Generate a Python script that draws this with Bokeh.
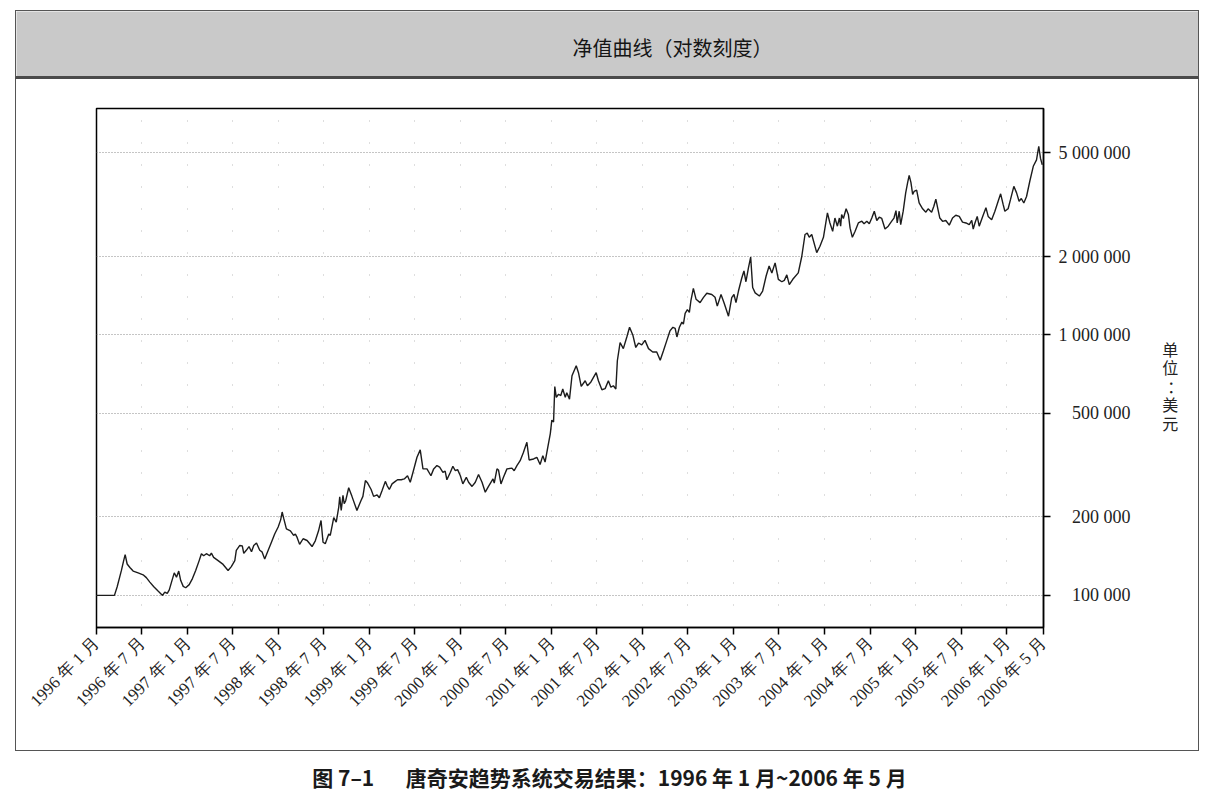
import numpy as np
import pandas as pd
from bokeh.plotting import figure
from bokeh.layouts import column, row
from bokeh.models import FixedTicker, Label, Range1d
from bokeh.embed import file_html
from bokeh.resources import INLINE

START = pd.Timestamp("1996-01-01")
END = pd.Timestamp("2006-05-28")

# equity curve: days after 1 Jan 1996 and account value (thousand USD)
day_offset = [
    0, 72, 83, 93, 100, 109, 115, 123, 134, 147, 167, 187, 200, 214, 230, 247, 265, 274, 284, 292,
    301, 312, 321, 330, 338, 348, 358, 372, 385, 398, 412, 421, 430, 441, 454, 461, 470, 488, 508, 528,
    541, 555, 561, 575, 585, 591, 601, 612, 622, 631, 642, 655, 664, 675, 689, 702, 715, 729, 739, 745,
    751, 762, 778, 791, 798, 805, 815, 829, 845, 865, 878, 891, 901, 909, 918, 932, 938, 952, 962, 972,
    976, 982, 989, 994, 1000, 1012, 1025, 1045, 1061, 1069, 1079, 1088, 1102, 1112, 1126, 1135, 1146, 1159, 1166, 1175,
    1186, 1199, 1208, 1223, 1235, 1248, 1259, 1270, 1286, 1299, 1310, 1326, 1342, 1353, 1366, 1377, 1390, 1399, 1406, 1420,
    1430, 1440, 1449, 1460, 1470, 1484, 1493, 1507, 1520, 1533, 1547, 1560, 1573, 1591, 1596, 1607, 1613, 1623, 1633, 1647,
    1667, 1676, 1687, 1700, 1713, 1727, 1736, 1754, 1767, 1780, 1791, 1800, 1811, 1821, 1827, 1834, 1839, 1845, 1854, 1863,
    1871, 1881, 1887, 1898, 1908, 1925, 1934, 1945, 1961, 1970, 1984, 2005, 2014, 2028, 2041, 2054, 2064, 2074, 2084, 2090,
    2101, 2114, 2128, 2139, 2152, 2164, 2175, 2188, 2201, 2215, 2232, 2248, 2262, 2275, 2288, 2301, 2313, 2322, 2329, 2339,
    2349, 2355, 2362, 2371, 2379, 2385, 2395, 2406, 2422, 2435, 2449, 2469, 2482, 2491, 2506, 2518, 2536, 2549, 2558, 2566,
    2576, 2589, 2598, 2606, 2616, 2625, 2633, 2643, 2660, 2673, 2687, 2699, 2710, 2723, 2736, 2750, 2760, 2770, 2780, 2794,
    2816, 2830, 2843, 2852, 2860, 2870, 2890, 2903, 2917, 2933, 2943, 2954, 2963, 2973, 2981, 2986, 2990, 2997, 3008, 3017,
    3024, 3033, 3044, 3057, 3071, 3080, 3091, 3101, 3111, 3121, 3131, 3141, 3151, 3164, 3177, 3191, 3200, 3208, 3213, 3221,
    3227, 3237, 3247, 3255, 3261, 3268, 3275, 3281, 3291, 3301, 3315, 3328, 3337, 3351, 3360, 3368, 3378, 3384, 3395, 3408,
    3422, 3435, 3448, 3462, 3475, 3489, 3502, 3512, 3518, 3525, 3534, 3542, 3556, 3569, 3578, 3592, 3605, 3618, 3628, 3638,
    3645, 3658, 3668, 3681, 3692, 3702, 3711, 3721, 3732, 3745, 3759, 3772, 3781, 3788, 3795,
]
equity_k = [
    100, 100, 108, 117.5, 124.7, 136, 143.5, 132, 128, 124, 122, 120, 117, 112.5, 108, 104, 100, 103, 101.8, 105,
    112.5, 122, 117.5, 124, 114, 108.3, 107, 110, 116, 124.7, 136, 144.6, 142, 144.6, 142, 145.3, 140, 136, 131.5, 124.7,
    129, 136, 148.8, 155.5, 155, 145, 149, 154, 147, 155.5, 159, 149, 147, 138, 149, 160, 172, 183, 195, 209,
    198, 180, 177, 170, 172, 167, 157, 165, 162.5, 154, 162, 177, 194, 160, 158, 172, 170, 199, 191, 218,
    239, 212, 242, 225, 231, 259, 240, 212, 231, 240, 276, 270, 255, 240, 243, 237, 253, 274, 264, 255,
    268, 274, 278, 278, 280, 288, 272, 297, 339, 362, 306, 306, 288, 306, 315, 311, 297, 300, 278, 297,
    313, 301, 304, 288, 268, 284, 272, 262, 272, 291, 272, 249, 262, 280, 270, 306, 303, 268, 284, 306,
    308, 301, 315, 329, 354, 387, 331, 334, 339, 318, 344, 325, 371, 418, 471, 463, 634, 576, 592, 585,
    620, 576, 600, 567, 697, 761, 716, 634, 667, 638, 660, 716, 667, 616, 622, 667, 630, 638, 620, 796,
    935, 886, 982, 1070, 1000, 895, 931, 915, 953, 886, 860, 860, 800, 869, 949, 1036, 1070, 1060, 982, 1070,
    1120, 1100, 1210, 1250, 1220, 1350, 1510, 1370, 1330, 1390, 1445, 1430, 1395, 1290, 1430, 1330, 1180, 1390, 1430, 1330,
    1474, 1650, 1760, 1600, 1810, 1990, 1520, 1450, 1410, 1474, 1683, 1840, 1730, 1890, 1635, 1600, 1620, 1700, 1560, 1635,
    1730, 2000, 2430, 2460, 2370, 2430, 2070, 2190, 2370, 2940, 2690, 2500, 2810, 2615, 2810, 2615, 2900, 2800, 3050, 2900,
    2570, 2370, 2500, 2690, 2733, 2670, 2733, 2670, 2810, 2985, 2750, 2830, 2800, 2550, 2615, 2733, 2810, 3000, 2690, 2985,
    2650, 2985, 3510, 3850, 4100, 3850, 3460, 3560, 3600, 3210, 3050, 2960, 3050, 2960, 3120, 3320, 2985, 2810, 2730, 2750,
    2640, 2810, 2880, 2850, 2710, 2690, 2650, 2750, 2550, 2690, 2850, 2615, 2850, 3080, 2850, 2770, 2985, 3260, 3480, 3170,
    2985, 3050, 3320, 3720, 3510, 3260, 3340, 3210, 3400, 3890, 4440, 4700, 5300, 4760, 4500,
]

tick_dates = [
    "1996-01-01", "1996-07-01", "1997-01-01", "1997-07-01", "1998-01-01", "1998-07-01",
    "1999-01-01", "1999-07-01", "2000-01-01", "2000-07-01", "2001-01-01", "2001-07-01",
    "2002-01-01", "2002-07-01", "2003-01-01", "2003-07-01", "2004-01-01", "2004-07-01",
    "2005-01-01", "2005-07-01", "2006-01-01", "2006-05-28",
]
tick_labels = [
    "1996 年 1 月", "1996 年 7 月", "1997 年 1 月", "1997 年 7 月", "1998 年 1 月", "1998 年 7 月",
    "1999 年 1 月", "1999 年 7 月", "2000 年 1 月", "2000 年 7 月", "2001 年 1 月", "2001 年 7 月",
    "2002 年 1 月", "2002 年 7 月", "2003 年 1 月", "2003 年 7 月", "2004 年 1 月", "2004 年 7 月",
    "2005 年 1 月", "2005 年 7 月", "2006 年 1 月", "2006 年 5 月",
]

y_ticks = [100000, 200000, 500000, 1000000, 2000000, 5000000]
y_tick_labels = ["100 000", "200 000", "500 000", "1 000 000", "2 000 000", "5 000 000"]

title_text = "净值曲线（对数刻度）"
unit_text = "单位：美元"
caption_text = "图 7–1\u2003\u2002唐奇安趋势系统交易结果：1996 年 1 月~2006 年 5 月"

SERIF = "Liberation Serif"
SANS = "Noto Sans CJK SC"

dates = START + pd.to_timedelta(day_offset, unit="D")
equity = np.array(equity_k) * 1000
y_range = Range1d(75300, 7400000)

# main chart
p = figure(width=1135, height=671,
    x_axis_type="datetime", y_axis_type="log", y_axis_location="right",
    x_range=Range1d(START, END), y_range=y_range,
    min_border_left=80, min_border_right=108, min_border_top=29, min_border_bottom=123,
    output_backend="svg", toolbar_location=None, tools="")

p.line(dates, equity, line_color="#1c1c1c", line_width=1.4)

xticks_ms = [int(pd.Timestamp(d).value // 10**6) for d in tick_dates]
p.xaxis.ticker = FixedTicker(ticks=xticks_ms)
p.xgrid.ticker = FixedTicker(ticks=xticks_ms)
p.xaxis.major_label_overrides = dict(zip(xticks_ms, tick_labels))
p.xaxis.major_label_orientation = np.pi / 4

p.yaxis.ticker = FixedTicker(ticks=y_ticks)
p.ygrid.ticker = FixedTicker(ticks=y_ticks)
# pad the short labels so they line up on the right like the original
width = max(len(s) for s in y_tick_labels)
padded = [("\u2007 " if len(s) < width else "") + s for s in y_tick_labels]
p.yaxis.major_label_overrides = dict(zip(y_ticks, padded))

for ax in (p.xaxis, p.yaxis):
    ax.axis_line_color = "black"
    ax.axis_line_width = 1.5
    ax.major_tick_line_color = "black"
    ax.major_tick_line_width = 1.5
    ax.major_tick_in = 0
    ax.major_tick_out = 7
    ax.minor_tick_line_color = None
    ax.major_label_text_font = SERIF
    ax.major_label_text_color = "#222222"
p.xaxis.major_label_text_font_size = "17px"
p.yaxis.major_label_text_font_size = "18px"
p.xaxis.major_label_standoff = 6
p.yaxis.major_label_standoff = 8

p.ygrid.grid_line_color = "#8a8a8a"
p.ygrid.grid_line_dash = "1 2"
p.ygrid.grid_line_width = 1
p.xgrid.grid_line_color = "#bdbdbd"
p.xgrid.grid_line_dash = "1 21"
p.xgrid.grid_line_width = 1

p.outline_line_color = "black"
p.outline_line_width = 1.5
p.background_fill_color = "white"
p.border_fill_color = "white"

# narrow strip on the right with the stacked unit label
unit = figure(width=47, height=671, x_range=Range1d(0, 1), y_range=y_range, y_axis_type="log",
    x_axis_location=None, y_axis_location=None,
    min_border_left=0, min_border_right=0, min_border_top=29, min_border_bottom=123,
    output_backend="svg", toolbar_location=None, tools="")
unit.grid.visible = False
unit.outline_line_color = None
for i, ch in enumerate(unit_text):
    unit.add_layout(Label(x=0.40, y=639000, y_offset=(2 - i) * 18.5, text=ch,
        x_offset=5 if ch == "：" else 0,
        text_font=SANS, text_font_size="16px", text_color="#222222",
        text_align="center", text_baseline="middle"))

# grey title band
head = figure(width=1182, height=65, x_range=Range1d(0, 1), y_range=Range1d(0, 1),
    x_axis_location=None, y_axis_location=None, min_border=0,
    output_backend="svg", toolbar_location=None, tools="")
head.grid.visible = False
head.background_fill_color = "#c9c9c9"
head.border_fill_color = "#c9c9c9"
head.outline_line_color = None
head.add_layout(Label(x=0.555, y=0.446, text=title_text, text_font=SANS,
    text_font_size="20px", text_color="#151515", text_align="center", text_baseline="middle"))

# caption below the box
cap = figure(width=1182, height=44, x_range=Range1d(0, 1), y_range=Range1d(0, 1),
    x_axis_location=None, y_axis_location=None, min_border=0,
    output_backend="svg", toolbar_location=None, tools="")
cap.grid.visible = False
cap.outline_line_color = None
cap.add_layout(Label(x=0.5025, y=0.43, text=caption_text, text_font=SANS, text_font_style="bold",
    text_font_size="21px", text_color="#1a1a1a", text_align="center", text_baseline="middle"))

hbox = column(head, styles={"border": "1px solid #555555", "border-bottom": "3px solid #4a4a4a"})
pbox = column(row(p, unit), styles={"border": "1px solid #555555", "border-top": "none"})
page = column(hbox, pbox, cap, margin=(10, 0, 0, 15))

open("out.html", "w").write(file_html(page, INLINE))
